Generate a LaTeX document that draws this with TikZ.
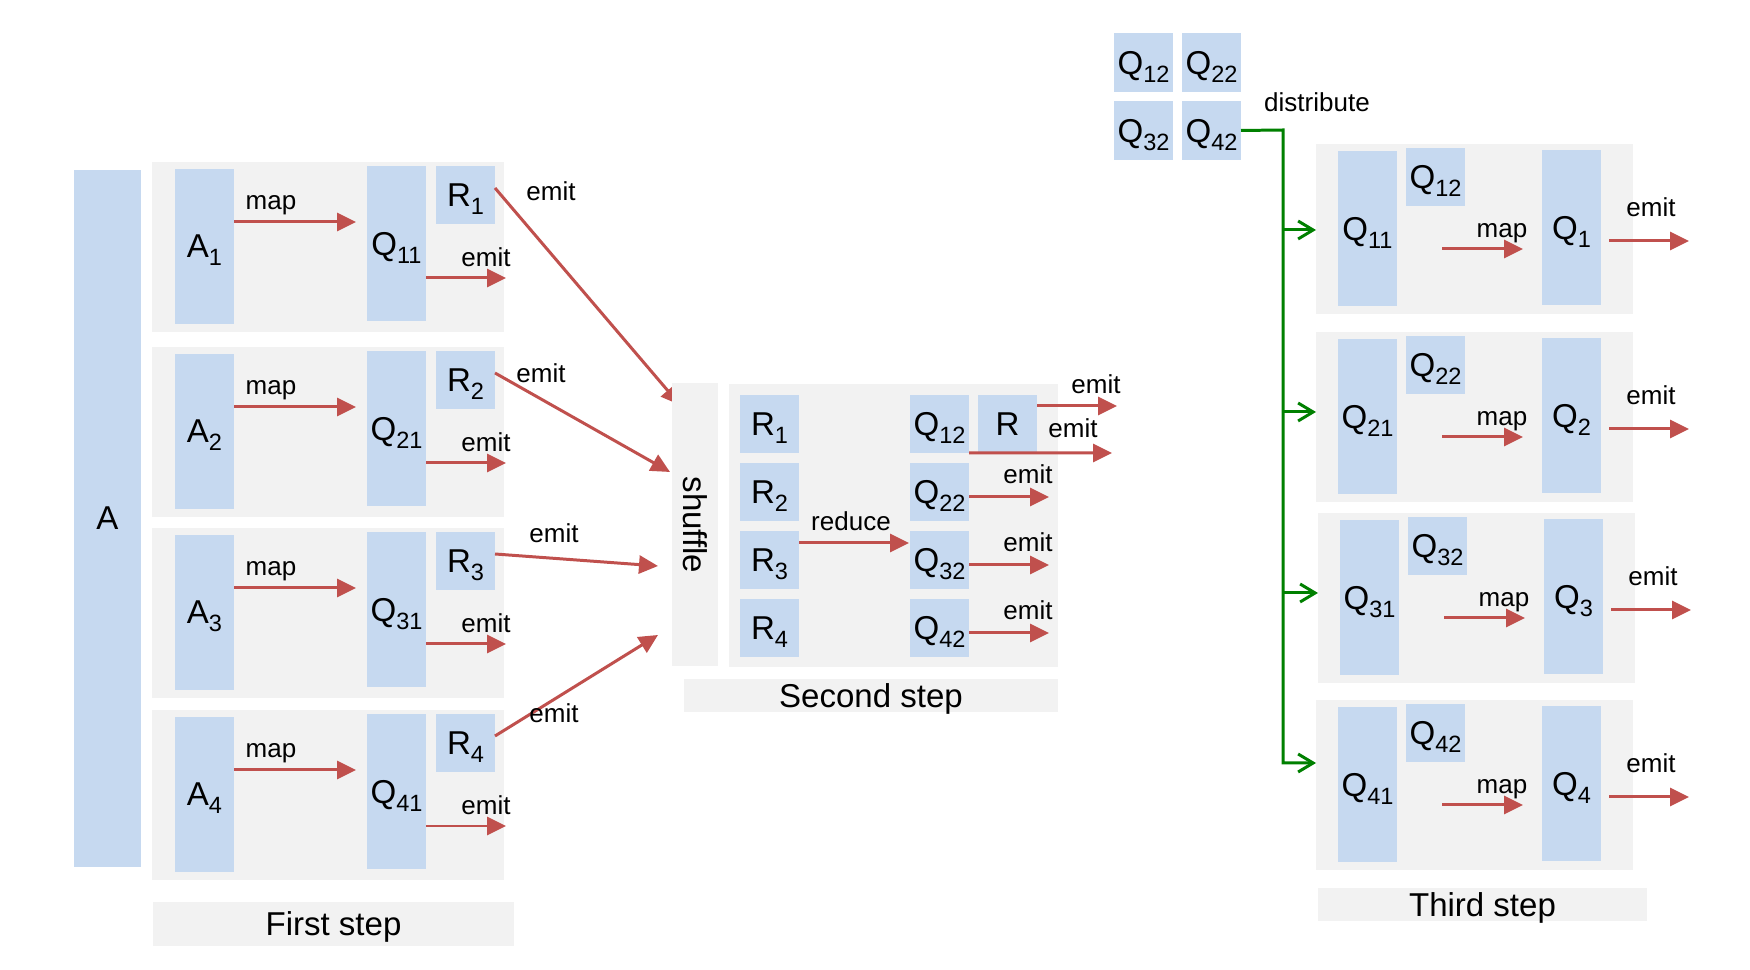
\documentclass[tikz,border=0pt]{standalone}
\usepackage{fontspec}
\setmainfont{Liberation Sans}
\usetikzlibrary{arrows.meta}
\definecolor{boxblue}{RGB}{198,217,240}
\definecolor{boxgray}{RGB}{242,242,242}
\definecolor{arrred}{RGB}{192,80,77}
\definecolor{arrgreen}{RGB}{0,128,0}
\newcommand{\bigsz}{\fontsize{9.4}{11}\selectfont}
\newcommand{\lblsz}{\fontsize{7.4}{9}\selectfont}
\newcommand{\sbs}[1]{\raisebox{-2.3pt}{\fontsize{6.7}{8}\selectfont #1}}
\tikzset{
	gbox/.style={fill=boxgray, inner sep=0pt, outer sep=0pt, anchor=north west, text depth=0pt, font=\bigsz},
	bbox/.style={fill=boxblue, inner sep=0pt, outer sep=0pt, anchor=north west, text depth=0pt, font=\bigsz},
	tall/.style={minimum width=5.9mm, minimum height=15.5mm},
	sq/.style={minimum width=5.9mm, minimum height=5.8mm},
	arr/.style={draw=arrred, line width=0.85pt, -{Triangle[length=1.9mm, width=1.8mm]}},
	garr/.style={draw=arrgreen, line width=0.85pt, -{Straight Barb[length=1.5mm, width=1.8mm]}},
	lbl/.style={anchor=base, inner sep=0pt, font=\lblsz}
}

\begin{document}
\begin{tikzpicture}[x=0.1mm, y=-0.1mm]
	\fill [white] (0,0) rectangle (1750,970);
	\node [bbox, minimum width=6.7mm, minimum height=69.7mm] (A) at (74,170) {A};
	\foreach \i/\t in {1/162,2/347,3/528,4/710} {
		\node [gbox, minimum width=35.2mm, minimum height=17mm] (row\i) at (152,\t) {};
		\node [bbox, tall] (a\i) at (175,\t+7) {A\sbs{\i}};
		\node [bbox, tall] (q\i1) at (367,\t+4) {Q\sbs{\i1}};
		\node [bbox, sq] (r\i) at (436,\t+4) {R\sbs{\i}};
		\coordinate (mp\i) at (300,\t+60);
		\coordinate (em\i) at (506,\t+116);
		\draw [arr, shorten >=1.1mm] (a\i.east |- mp\i) -- (q\i1.west |- mp\i);
		\draw [arr] (q\i1.east |- em\i) -- (em\i);
		\node [lbl] (map\i) at (271,\t+48) {map};
		\node [lbl] (emit\i) at (486,\t+105) {emit};
	}
	\node [gbox, minimum width=36.1mm, minimum height=4.4mm] (step1) at (153,902) {First step};

	\coordinate (sh1) at (680,405);
	\coordinate (sh2) at (670,472);
	\coordinate (sh3) at (658,566);
	\coordinate (sh4) at (658,635);
	\foreach \i/\x/\y in {1/551/201,2/541/383,3/554/543,4/554/723} {
		\draw [arr] ([yshift=0.7mm]r\i.east) -- (sh\i);
		\node [lbl] (remit\i) at (\x,\y) {emit};
	}

	\node [gbox, rotate=-90, anchor=center, minimum width=28.3mm, minimum height=4.6mm] (shuffle) at (695,525) {shuffle};
	\node [gbox, minimum width=32.9mm, minimum height=28.3mm] (step2box) at (729,384) {};
	\foreach \i in {1,...,4} {
		\node [bbox, sq] (rr\i) at (740,327+68*\i) {R\sbs{\i}};
		\node [bbox, sq] (q\i2) at (910,327+68*\i) {Q\sbs{\i2}};
	}
	\node [bbox, sq] (R) at (978,395) {R};
	\coordinate (rd) at (909,543);
	\draw [arr] (rr3.east |- rd) -- (rd);
	\node [lbl] (reduce) at (851,531) {reduce};
	\coordinate (er) at (1117,406);
	\coordinate (eq) at (1112,453);
	\draw [arr] (R.east |- er) -- (er);
	\draw [arr] (q12.south east) -- (eq);
	\node [lbl] (emr) at (1096,394) {emit};
	\node [lbl] (emq1) at (1073,438) {emit};
	\foreach \i in {2,3,4} {
		\coordinate (eq\i) at (1049,361+68*\i);
		\draw [arr] (q\i2.east |- eq\i) -- (eq\i);
		\node [lbl] (emq\i) at (1028,348+68*\i) {emit};
	}
	\node [gbox, minimum width=37.4mm, minimum height=3.3mm] (step2) at (684,679) {Second step};

	\foreach \n/\x/\y in {12/1114/33,22/1182/33,32/1114/101,42/1182/101}
		\node [bbox, minimum width=5.9mm, minimum height=5.9mm] (tq\n) at (\x,\y) {Q\sbs{\n}};
	\node [lbl] (distribute) at (1317,112) {distribute};
	\foreach \i/\t/\dx in {1/144/0,2/332/0,3/513/2,4/700/0} {
		\node [gbox, minimum width=31.7mm, minimum height=17mm] (t\i) at (1316+\dx,\t) {};
		\node [bbox, tall] (u\i1) at (1338+\dx,\t+7) {Q\sbs{\i1}};
		\node [bbox, sq] (u\i2) at (1406+\dx,\t+4) {Q\sbs{\i2}};
		\node [bbox, tall] (u\i) at (1542+\dx,\t+6) {Q\sbs{\i}};
		\coordinate (ms\i) at (1442+\dx,\t+105);
		\coordinate (es\i) at (1689+\dx,\t+97);
		\draw [arr, shorten >=1.9mm] (ms\i) -- (u\i.west |- ms\i);
		\draw [arr, shorten <=0.8mm] (u\i.east |- es\i) -- (es\i);
		\node [lbl] (tmap\i) at (1502+\dx,\t+94) {map};
		\node [lbl] (temit\i) at (1651+\dx,\t+73) {emit};
	}
	\coordinate (gtop) at (1283,130);
	\coordinate (gbot) at (1283,763);
	\draw [garr] (tq42.east) -- (gtop) -- (gbot) -- (t4.west |- gbot);
	\foreach \i/\g in {1/230,2/412,3/593}
		\draw [garr] (1283,\g) -- (t\i.west |- 0,\g);
	\node [gbox, minimum width=32.9mm, minimum height=3.3mm] (step3) at (1318,888) {Third step};
\end{tikzpicture}
\end{document}
